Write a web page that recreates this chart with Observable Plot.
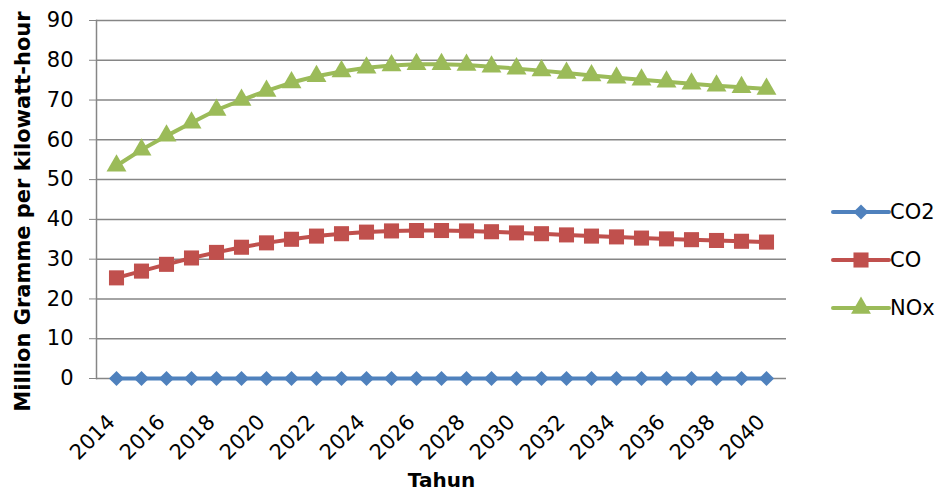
<!DOCTYPE html>
<html>
<head>
<meta charset="utf-8">
<script src="https://cdn.jsdelivr.net/npm/d3@7"></script>
<script src="https://cdn.jsdelivr.net/npm/@observablehq/plot@0.6"></script>
<style>
  html, body { margin: 0; padding: 0; background: #fff; }
  #wrap { position: relative; width: 939px; height: 493px; font-family: "DejaVu Sans", sans-serif; }
  #legend { position: absolute; left: 826px; top: 196px; }
</style>
</head>
<body>
<div id="wrap"></div>
<script>
const years = [2014,2015,2016,2017,2018,2019,2020,2021,2022,2023,2024,2025,2026,2027,2028,2029,2030,2031,2032,2033,2034,2035,2036,2037,2038,2039,2040];
const xTickLabels = [2014,2016,2018,2020,2022,2024,2026,2028,2030,2032,2034,2036,2038,2040];
const yTicks = [0,10,20,30,40,50,60,70,80,90];
const seriesNames = ["CO2", "CO", "NOx"];
const seriesColors = ["#4F81BD", "#C0504D", "#9BBB59"];
const seriesSymbols = ["diamond2", "square", "triangle"];
const co2 = [0,0,0,0,0,0,0,0,0,0,0,0,0,0,0,0,0,0,0,0,0,0,0,0,0,0,0];
const co  = [25.3,27.0,28.7,30.3,31.7,33.0,34.1,35.0,35.8,36.4,36.8,37.1,37.2,37.2,37.1,36.9,36.6,36.4,36.1,35.8,35.6,35.3,35.1,34.9,34.7,34.5,34.3];
const nox = [53.5,57.5,61.0,64.3,67.5,70.0,72.3,74.4,76.0,77.2,78.1,78.7,79.0,79.0,78.8,78.4,77.9,77.4,76.8,76.2,75.6,75.1,74.6,74.1,73.6,73.2,72.8];
const yTitle = "Million Gramme per kilowatt-hour";
const xTitle = "Tahun";

const seriesValues = [co2, co, nox];
const data = [];
seriesNames.forEach((s, i) => years.forEach((yr, j) => data.push({series: s, year: yr, value: seriesValues[i][j]})));

const symR = {CO2: 6.8, CO: 8.5, NOx: 7.4};
const gray = "#868686";
const font = "'DejaVu Sans', sans-serif";

const marks = [
  Plot.gridY(yTicks, {stroke: gray, strokeOpacity: 1, strokeWidth: 1.5}),
  Plot.frame({anchor: "left", stroke: gray, strokeWidth: 1.5}),
  Plot.axisY({ticks: yTicks, tickSize: 7, stroke: gray, tickPadding: 16, label: null, fontSize: 21}),
  Plot.axisX({ticks: xTickLabels, tickFormat: d => String(d), tickRotate: -45, tickSize: 0, tickPadding: 28, dy: 12, dx: -5, label: null, fontSize: 21}),
  Plot.text([yTitle], {frameAnchor: "left", textAnchor: "middle", rotate: -90, dx: -73, dy: 12, fontWeight: "bold", fontSize: 21}),
  Plot.text([xTitle], {frameAnchor: "bottom", dy: 108, fontWeight: "bold", fontSize: 20})
];
seriesNames.forEach((s, i) => {
  const d = data.filter(r => r.series === s);
  marks.push(Plot.line(d, {x: "year", y: "value", stroke: seriesColors[i], strokeWidth: 4}));
  marks.push(Plot.dot(d, {x: "year", y: "value", symbol: () => seriesSymbols[i], r: symR[s], fill: seriesColors[i], stroke: "none"}));
});

const chart = Plot.plot({
  width: 939, height: 493,
  marginLeft: 96, marginRight: 153, marginTop: 20, marginBottom: 115,
  x: {type: "point", domain: years, padding: 0.5, label: null},
  y: {domain: [0, 90], label: null},
  symbol: {type: "identity"},
  style: {fontFamily: font, fontSize: "20px", color: "#000", background: "#fff"},
  marks
});
document.getElementById("wrap").appendChild(chart);

// legend
const lg = d3.select("#wrap").append("svg").attr("id", "legend").attr("width", 113).attr("height", 130);
const symMap = {diamond2: d3.symbolDiamond2, square: d3.symbolSquare, triangle: d3.symbolTriangle};
seriesNames.forEach((s, i) => {
  const cy = 16 + i * 48;
  const g = lg.append("g").attr("transform", `translate(0,${cy})`);
  g.append("line").attr("x1", 7).attr("x2", 63).attr("y1", 0).attr("y2", 0)
    .attr("stroke", seriesColors[i]).attr("stroke-width", 4).attr("stroke-linecap", "round");
  g.append("path").attr("transform", "translate(35,0)")
    .attr("d", d3.symbol(symMap[seriesSymbols[i]], Math.PI * symR[s] * symR[s])())
    .attr("fill", seriesColors[i]);
  g.append("text").attr("x", 64).attr("y", 0).attr("dy", "0.35em")
    .attr("font-family", font).attr("font-size", 21).text(s);
});
</script>
</body>
</html>
